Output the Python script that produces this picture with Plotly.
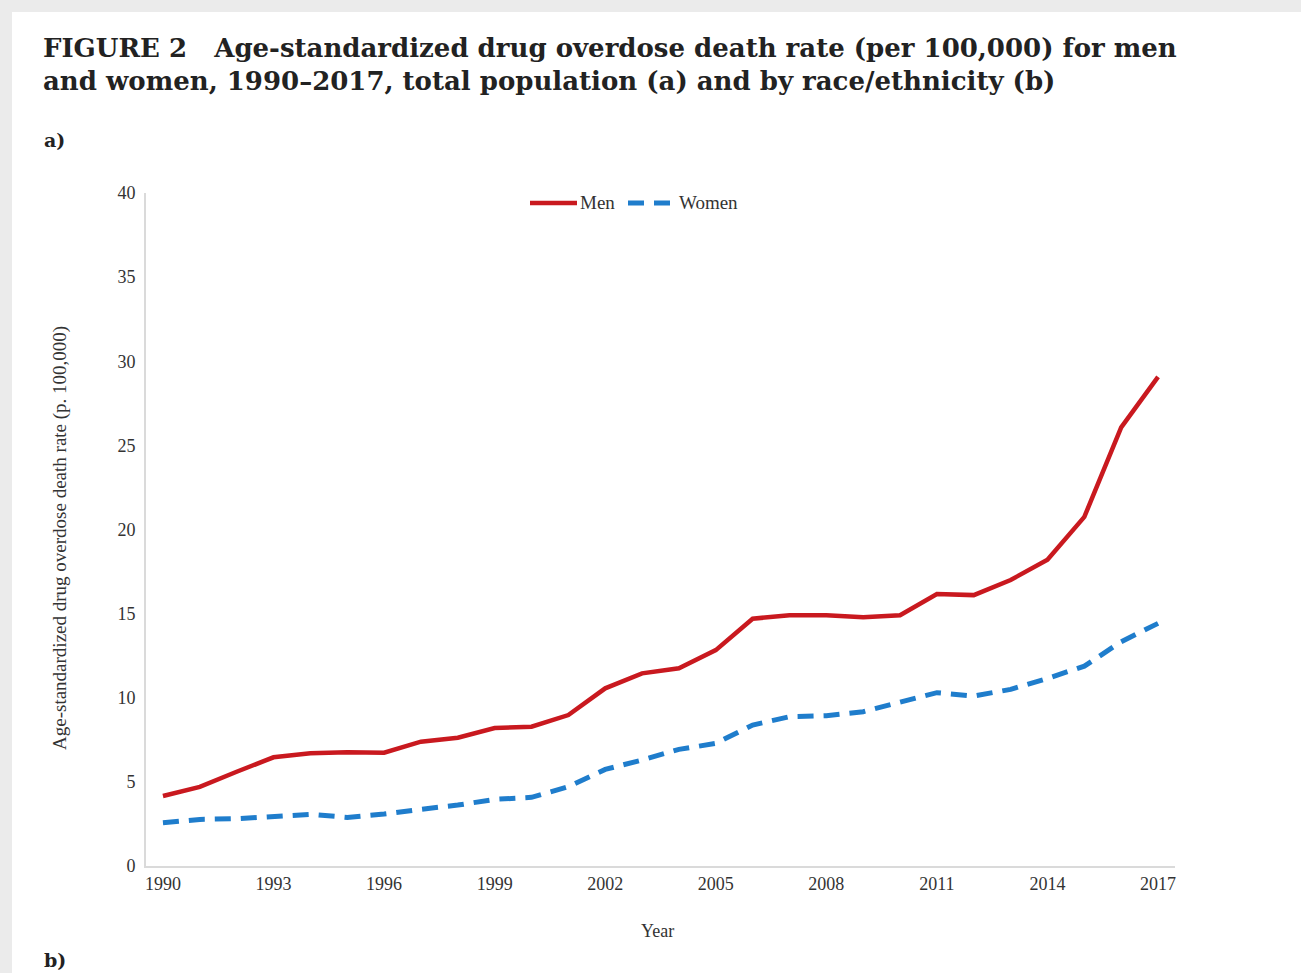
import plotly.graph_objects as go

years = list(range(1990, 2018))
men = [4.16, 4.7, 5.6, 6.46, 6.7, 6.76, 6.73, 7.39, 7.62, 8.2, 8.28, 8.97, 10.56, 11.45,
       11.75, 12.83, 14.7, 14.9, 14.9, 14.78, 14.9, 16.16, 16.1, 17.0, 18.2, 20.75, 26.07, 29.07]
women = [2.57, 2.77, 2.81, 2.97, 3.07, 2.89, 3.09, 3.37, 3.62, 3.96, 4.08, 4.71, 5.74, 6.3,
         6.93, 7.29, 8.38, 8.87, 8.93, 9.17, 9.7, 10.3, 10.1, 10.5, 11.15, 11.88, 13.33, 14.42]
series_names = ["Men", "Women"]
xticks = [1990, 1993, 1996, 1999, 2002, 2005, 2008, 2011, 2014, 2017]
yticks = [0, 5, 10, 15, 20, 25, 30, 35, 40]

W, H = 1301, 973
L, R, T, B = 146, 1175, 193, 866

def px(x):
    return (x - L) / (R - L)

def py(y):
    return (B - y) / (B - T)

RED = "#c9191f"
BLUE = "#1f7dcc"
DASH = "16px,10px"

fig = go.Figure()
fig.add_trace(go.Scatter(x=years, y=men, mode="lines", name=series_names[0],
                         line=dict(color=RED, width=4.5)))
fig.add_trace(go.Scatter(x=years, y=women, mode="lines", name=series_names[1],
                         line=dict(color=BLUE, width=5, dash=DASH)))

serif = "Liberation Serif"
fig.update_layout(
    width=W, height=H, autosize=False,
    margin=dict(l=L, r=W - R, t=T, b=H - B, pad=0),
    paper_bgcolor="white", plot_bgcolor="white",
    showlegend=False,
    xaxis=dict(range=[1989.54, 2017.46], tickvals=xticks, ticktext=[str(v) for v in xticks],
               showgrid=False, zeroline=False, showline=True, linecolor="#dadada", linewidth=2,
               ticks="", ticklabelstandoff=0,
               tickfont=dict(family=serif, size=18, color="#333")),
    yaxis=dict(range=[0, 40], tickvals=yticks, ticktext=[str(v) for v in yticks],
               showgrid=False, zeroline=False, showline=True, linecolor="#dadada", linewidth=2,
               ticks="", ticklabelstandoff=5,
               tickfont=dict(family=serif, size=18, color="#333")),
)

shapes = [
    dict(type="rect", xref="paper", yref="paper", x0=px(-5), x1=px(W + 5), y0=py(12), y1=py(-5),
         fillcolor="#ebebeb", line=dict(width=0), layer="below"),
    dict(type="rect", xref="paper", yref="paper", x0=px(-5), x1=px(12), y0=py(H + 5), y1=py(-5),
         fillcolor="#ebebeb", line=dict(width=0), layer="below"),
    # legend samples
    dict(type="line", xref="paper", yref="paper", x0=px(530), x1=px(577), y0=py(203), y1=py(203),
         line=dict(color=RED, width=4.5)),
    dict(type="line", xref="paper", yref="paper", x0=px(628), x1=px(676), y0=py(203), y1=py(203),
         line=dict(color=BLUE, width=5, dash=DASH)),
]
fig.update_layout(shapes=shapes)

tfont = "DejaVu Serif"
ann = [
    dict(text="<b>FIGURE 2   Age-standardized drug overdose death rate (per 100,000) for men</b>",
         x=px(41), y=py(48), xanchor="left", yanchor="middle",
         font=dict(family=tfont, size=26, color="#222")),
    dict(text="<b>and women, 1990–2017, total population (a) and by race/ethnicity (b)</b>",
         x=px(41), y=py(81), xanchor="left", yanchor="middle",
         font=dict(family=tfont, size=26, color="#222")),
    dict(text="<b>a)</b>", x=px(42), y=py(140), xanchor="left", yanchor="middle",
         font=dict(family=tfont, size=19, color="#222")),
    dict(text="<b>b)</b>", x=px(42), y=py(960), xanchor="left", yanchor="middle",
         font=dict(family=tfont, size=19, color="#222")),
    dict(text="Age-standardized drug overdose death rate (p. 100,000)", textangle=-90,
         x=px(60), y=py(538), xanchor="center", yanchor="middle",
         font=dict(family=serif, size=19, color="#333")),
    dict(text="Year", x=px(657), y=py(931), xanchor="center", yanchor="middle",
         font=dict(family=serif, size=18, color="#333")),
    dict(text=series_names[0], x=px(578), y=py(203), xanchor="left", yanchor="middle",
         font=dict(family=serif, size=19, color="#333")),
    dict(text=series_names[1], x=px(677), y=py(203), xanchor="left", yanchor="middle",
         font=dict(family=serif, size=19, color="#333")),
]
for a in ann:
    a.update(xref="paper", yref="paper", showarrow=False)
fig.update_layout(annotations=ann)

fig.write_html("out.html")
